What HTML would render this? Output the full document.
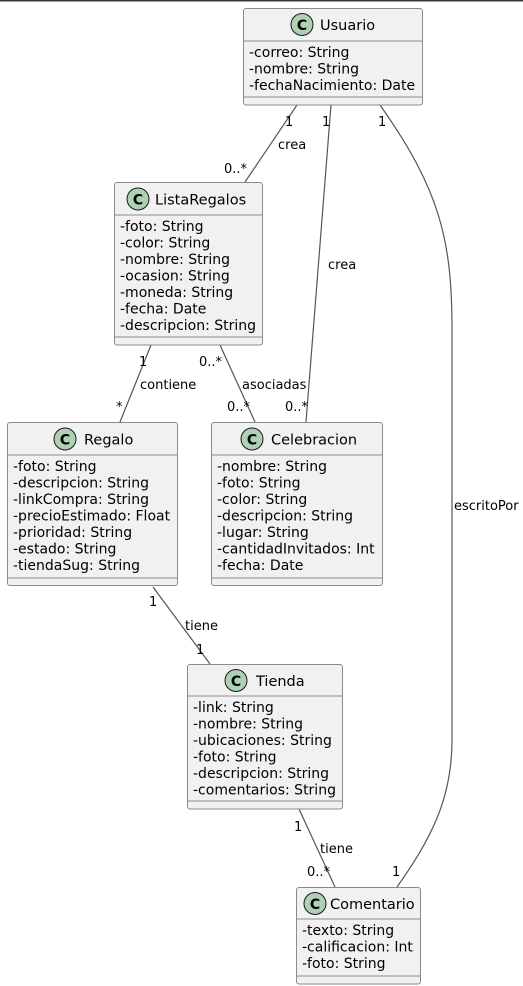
<!DOCTYPE html>
<html><head><meta charset="utf-8"><style>
html,body{margin:0;padding:0;background:#fff;width:523px;height:986px;overflow:hidden}
svg{display:block}
text{font-family:"DejaVu Sans","Liberation Sans",sans-serif;font-size:13px;fill:#000}
.a{font-size:14px}
.t{font-size:14.5px}
.box{fill:#F1F1F1;stroke:#8a8a8a;stroke-width:1}
.sep{stroke:#8a8a8a;stroke-width:1}
.ln{stroke:#555;stroke-width:1.2;fill:none}
.ci{fill:#ADD1B2;stroke:#181818;stroke-width:1}
.cl{font-weight:bold;font-size:14px}
</style></head><body>
<svg width="523" height="986" viewBox="0 0 523 986" xmlns="http://www.w3.org/2000/svg">
<rect x="0" y="0" width="523" height="1.5" fill="#383838"/>

<line class="ln" x1="297" y1="105" x2="245" y2="182"/>
<line class="ln" x1="331" y1="105" x2="306" y2="422"/>
<path class="ln" d="M380 105 C 440 190, 452 240, 452 330 L452 740 C 452 800, 430 840, 397 887"/>
<line class="ln" x1="151" y1="345" x2="120" y2="422"/>
<line class="ln" x1="220" y1="345" x2="255" y2="422"/>
<line class="ln" x1="153" y1="587" x2="210" y2="664"/>
<line class="ln" x1="299" y1="809" x2="335" y2="887"/>

<text x="285" y="126">1</text>
<text x="278" y="149">crea</text>
<text x="224" y="173">0..*</text>
<text x="322" y="126">1</text>
<text x="328" y="269">crea</text>
<text x="285" y="411">0..*</text>
<text x="378" y="126">1</text>
<text x="454" y="510">escritoPor</text>
<text x="392" y="876">1</text>
<text x="139" y="366">1</text>
<text x="140" y="389">contiene</text>
<text x="116" y="411">*</text>
<text x="199" y="366">0..*</text>
<text x="242" y="389">asociadas</text>
<text x="227" y="411">0..*</text>
<text x="149" y="606">1</text>
<text x="185" y="630">tiene</text>
<text x="196" y="654">1</text>
<text x="294" y="831">1</text>
<text x="320" y="853">tiene</text>
<text x="307" y="876">0..*</text>

<rect class="box" x="243.5" y="8.5" width="179" height="96.5" rx="2.5"/>
<line class="sep" x1="243.5" y1="41" x2="422.5" y2="41"/>
<line class="sep" x1="243.5" y1="97" x2="422.5" y2="97"/>
<circle class="ci" cx="302" cy="24.5" r="11"/><text x="302" y="30" text-anchor="middle" class="cl">C</text>
<text x="320" y="30" class="t">Usuario</text>
<text class="a" x="249" y="57">-correo: String</text>
<text class="a" x="249" y="73.5">-nombre: String</text>
<text class="a" x="249" y="90">-fechaNacimiento: Date</text>

<rect class="box" x="114.5" y="182.5" width="148" height="162.5" rx="2.5"/>
<line class="sep" x1="114.5" y1="215" x2="262.5" y2="215"/>
<line class="sep" x1="114.5" y1="337" x2="262.5" y2="337"/>
<circle class="ci" cx="138" cy="199" r="11"/><text x="138" y="204.5" text-anchor="middle" class="cl">C</text>
<text x="155" y="204.5" class="t">ListaRegalos</text>
<text class="a" x="120" y="231">-foto: String</text>
<text class="a" x="120" y="247.5">-color: String</text>
<text class="a" x="120" y="264">-nombre: String</text>
<text class="a" x="120" y="280.5">-ocasion: String</text>
<text class="a" x="120" y="297">-moneda: String</text>
<text class="a" x="120" y="313.5">-fecha: Date</text>
<text class="a" x="120" y="330">-descripcion: String</text>

<rect class="box" x="7.5" y="422.5" width="170" height="163" rx="2.5"/>
<line class="sep" x1="7.5" y1="455" x2="177.5" y2="455"/>
<line class="sep" x1="7.5" y1="578" x2="177.5" y2="578"/>
<circle class="ci" cx="65" cy="439" r="11"/><text x="65" y="444.5" text-anchor="middle" class="cl">C</text>
<text x="84" y="444.5" class="t">Regalo</text>
<text class="a" x="13" y="471">-foto: String</text>
<text class="a" x="13" y="487.5">-descripcion: String</text>
<text class="a" x="13" y="504">-linkCompra: String</text>
<text class="a" x="13" y="520.5">-precioEstimado: Float</text>
<text class="a" x="13" y="537">-prioridad: String</text>
<text class="a" x="13" y="553.5">-estado: String</text>
<text class="a" x="13" y="570">-tiendaSug: String</text>

<rect class="box" x="211.5" y="422.5" width="171" height="163" rx="2.5"/>
<line class="sep" x1="211.5" y1="455" x2="382.5" y2="455"/>
<line class="sep" x1="211.5" y1="578" x2="382.5" y2="578"/>
<circle class="ci" cx="252" cy="439" r="11"/><text x="252" y="444.5" text-anchor="middle" class="cl">C</text>
<text x="271" y="444.5" class="t">Celebracion</text>
<text class="a" x="217" y="471">-nombre: String</text>
<text class="a" x="217" y="487.5">-foto: String</text>
<text class="a" x="217" y="504">-color: String</text>
<text class="a" x="217" y="520.5">-descripcion: String</text>
<text class="a" x="217" y="537">-lugar: String</text>
<text class="a" x="217" y="553.5">-cantidadInvitados: Int</text>
<text class="a" x="217" y="570">-fecha: Date</text>

<rect class="box" x="187.5" y="664.5" width="155" height="144.5" rx="2.5"/>
<line class="sep" x1="187.5" y1="696" x2="342.5" y2="696"/>
<line class="sep" x1="187.5" y1="801" x2="342.5" y2="801"/>
<circle class="ci" cx="236" cy="680.5" r="11"/><text x="236" y="686" text-anchor="middle" class="cl">C</text>
<text x="256" y="686" class="t">Tienda</text>
<text class="a" x="193" y="712">-link: String</text>
<text class="a" x="193" y="728.5">-nombre: String</text>
<text class="a" x="193" y="745">-ubicaciones: String</text>
<text class="a" x="193" y="761.5">-foto: String</text>
<text class="a" x="193" y="778">-descripcion: String</text>
<text class="a" x="193" y="794.5">-comentarios: String</text>

<rect class="box" x="296.5" y="887.5" width="124" height="96.5" rx="2.5"/>
<line class="sep" x1="296.5" y1="919" x2="420.5" y2="919"/>
<line class="sep" x1="296.5" y1="976" x2="420.5" y2="976"/>
<circle class="ci" cx="315" cy="903.5" r="11"/><text x="315" y="909" text-anchor="middle" class="cl">C</text>
<text x="330" y="909" class="t">Comentario</text>
<text class="a" x="302" y="935">-texto: String</text>
<text class="a" x="302" y="951.5">-calificacion: Int</text>
<text class="a" x="302" y="968">-foto: String</text>
</svg>
</body></html>
